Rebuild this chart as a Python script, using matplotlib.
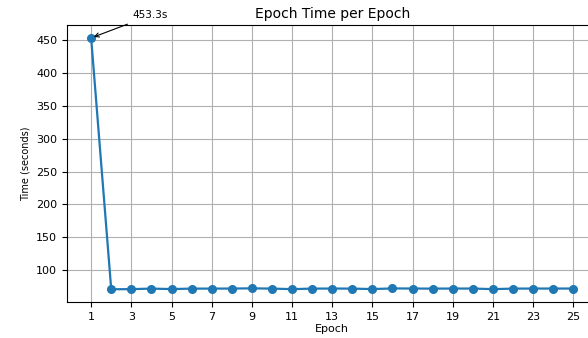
import matplotlib
matplotlib.use("Agg")
import matplotlib.pyplot as plt

# epoch durations
epochs = list(range(1, 26))
epoch_times = [453.3, 71.0, 71.2, 72.0, 71.3, 72.0, 72.0, 72.1, 72.4, 72.0,
               71.2, 72.0, 72.1, 72.0, 71.3, 72.3, 72.1, 72.0, 72.1, 72.1,
               71.2, 72.0, 72.1, 72.1, 72.1]
xtick_labels = list(range(1, 26, 2))

fig = plt.figure(figsize=(5.88, 3.38), dpi=100)
# axes run past the right edge, like the cropped original
ax = fig.add_axes([0.114, 0.107, 0.902, 0.818])

ax.plot(epochs, epoch_times, marker='o', markersize=5.5, linewidth=1.6, color='#1f77b4')
ax.set_title('Epoch Time per Epoch', fontsize=10, pad=5)
ax.set_xlabel('Epoch', fontsize=8, labelpad=2)
ax.set_ylabel('Time (seconds)', fontsize=7, labelpad=4)
ax.set_xticks(xtick_labels)
ax.tick_params(labelsize=8)
ax.grid(True, color='#b0b0b0', linewidth=0.8)

ax.annotate(f'{epoch_times[0]}s', xy=(epochs[0], epoch_times[0]),
            xytext=(30, 14), textcoords='offset points', fontsize=7.5,
            arrowprops=dict(arrowstyle='->', color='black', linewidth=0.8))

fig.savefig('out.png', dpi=100)
